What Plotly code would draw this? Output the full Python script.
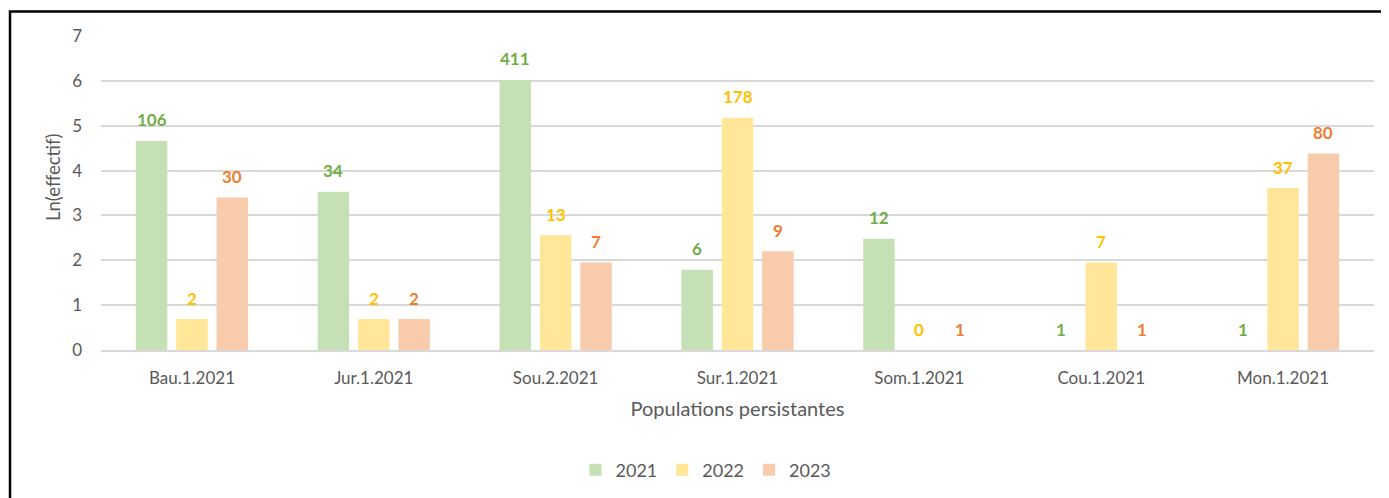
import plotly.graph_objects as go

categories = ["Bau.1.2021", "Jur.1.2021", "Sou.2.2021", "Sur.1.2021", "Som.1.2021", "Cou.1.2021", "Mon.1.2021"]
series_names = ["2021", "2022", "2023"]
ln_2021 = [4.66, 3.53, 6.02, 1.79, 2.48, 0.0, 0.0]
ln_2022 = [0.69, 0.69, 2.56, 5.18, 0.0, 1.95, 3.61]
ln_2023 = [3.40, 0.69, 1.95, 2.20, 0.0, 0.0, 4.38]
count_2021 = [106, 34, 411, 6, 12, 1, 1]
count_2022 = [2, 2, 13, 178, 0, 7, 37]
count_2023 = [30, 2, 7, 9, 1, 1, 80]

bar_colors = ["#C5E0B4", "#FFE699", "#F8CBAD"]
label_colors = ["#70AD47", "#FFC000", "#ED7D31"]
heights = [ln_2021, ln_2022, ln_2023]
counts = [count_2021, count_2022, count_2023]

FONT = "Lato, 'Open Sans', sans-serif"

# page body has an 8px margin: figure origin sits at (8, 8) in the screenshot
OFF = 8
W, H = 1389 - OFF, 498 - OFF
# target plot area in screenshot pixels
PX_L, PX_R, PX_T, PX_B = 101, 1374, 36, 350
L, R, T, B = PX_L - OFF, (W + OFF) - PX_R, PX_T - OFF, (H + OFF) - PX_B
pw, ph = W - L - R, H - T - B

def px_x(v):
    return (v - PX_L) / pw

def px_y(v):
    return (PX_B - v) / ph

fig = go.Figure()
for name, h, col in zip(series_names, heights, bar_colors):
    fig.add_trace(go.Bar(x=categories, y=h, name=name, marker=dict(color=col, line=dict(width=0))))

slot_px = 40.4
annotations = []
for i, (h, c, lc) in enumerate(zip(heights, counts, label_colors)):
    for cat, v, n in zip(categories, h, c):
        annotations.append(dict(
            x=cat, y=v, xref="x", yref="y", text=str(n), showarrow=False,
            xshift=(i - 1) * slot_px, yshift=21, yanchor="middle",
            font=dict(family=FONT, size=17, color=lc, weight="bold"),
        ))
annotations.append(dict(
    x=px_x(53), y=px_y(178), xref="paper", yref="paper", text="Ln(effectif)",
    textangle=-90, showarrow=False, xanchor="center", yanchor="middle",
    font=dict(family=FONT, size=18.5, color="#595959"),
))

fig.update_layout(
    width=W, height=H,
    margin=dict(l=L, r=R, t=T, b=B, autoexpand=False),
    paper_bgcolor="white", plot_bgcolor="white",
    barmode="group", bargap=0.334, bargroupgap=0.22,
    font=dict(family=FONT, color="#595959", size=17),
    annotations=annotations,
    showlegend=True,
    legend=dict(orientation="h", x=px_x(706), xanchor="center", y=px_y(470), yanchor="middle",
                font=dict(size=18, color="#595959"), traceorder="normal",
                itemwidth=30, itemsizing="constant"),
    shapes=[dict(type="rect", xref="paper", yref="paper",
                 x0=px_x(10), x1=px_x(1400), y0=px_y(510), y1=px_y(11.5),
                 line=dict(color="black", width=2.5), fillcolor="rgba(0,0,0,0)", layer="above")],
)

fig.update_xaxes(showgrid=False, showline=True, linecolor="#D9D9D9", linewidth=1.5,
                 ticks="", ticklabelstandoff=12, tickfont=dict(size=17, color="#595959"),
                 title=dict(text="Populations persistantes", font=dict(size=20, color="#595959"), standoff=15))
fig.update_yaxes(range=[0, 7], dtick=1, showgrid=True, gridcolor="#D9D9D9", gridwidth=1.5,
                 zeroline=False, showline=False, ticks="", ticklabelstandoff=18,
                 tickfont=dict(size=17, color="#595959"))

fig.write_html("out.html")
